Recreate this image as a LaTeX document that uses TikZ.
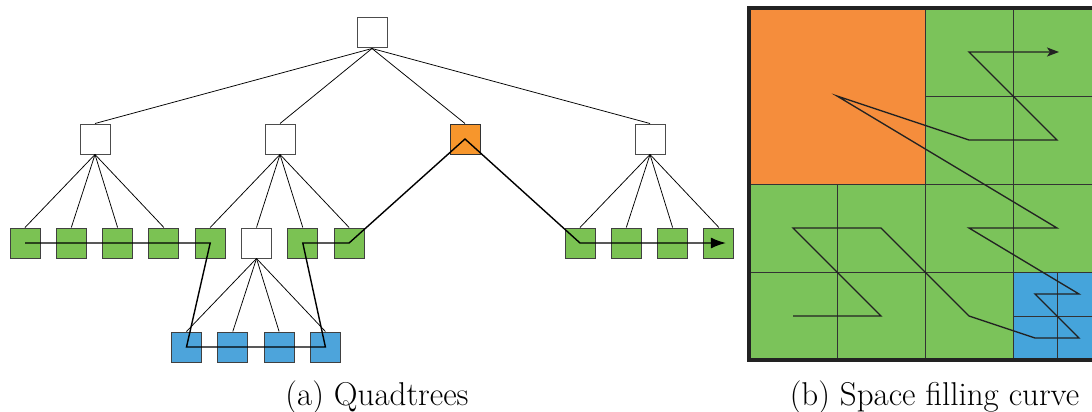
\documentclass[tikz,border=0pt]{standalone}
\usetikzlibrary{arrows.meta}
\definecolor{leafgreen}{HTML}{7BC253}
\definecolor{leaforange}{HTML}{F7962C}
\definecolor{leafblue}{HTML}{4DA4DB}
\definecolor{cellgreen}{HTML}{7BC35A}
\definecolor{cellorange}{HTML}{F58D3C}
\definecolor{cellblue}{HTML}{45A4DB}
\definecolor{framegray}{HTML}{222222}
\tikzset{
  qbox/.style={draw=black!70, line width=1pt, minimum size=30pt, inner sep=0pt, fill=white},
  greenbox/.style={qbox, fill=leafgreen, draw=black!75},
  bluebox/.style={qbox, fill=leafblue, draw=black!75},
  orangebox/.style={qbox, fill=leaforange, draw=black!80},
  treeedge/.style={line width=0.75pt, black},
  traverse/.style={line width=1.4pt, black, line join=miter},
  gridline/.style={line width=1pt, black!80},
  sfc/.style={line width=1.3pt, framegray},
  captext/.style={font=\fontsize{33}{38}\selectfont, anchor=base, inner sep=0pt}
}
\begin{document}
\begin{tikzpicture}[x=1pt,y=-1pt]
\useasboundingbox (0,0) rectangle (1092,412);
% ---------- quadtree ----------
\node[qbox] (root) at (372,33) {};
\node[qbox] (n1) at (95,139) {};
\node[qbox] (n2) at (280,139) {};
\node[orangebox] (n3) at (465,139) {};
\node[qbox] (n4) at (650,139) {};
\node[greenbox] (a1) at (25,243) {};
\node[greenbox] (a2) at (71.3,243) {};
\node[greenbox] (a3) at (117.6,243) {};
\node[greenbox] (a4) at (163.9,243) {};
\node[greenbox] (b1) at (210.2,243) {};
\node[qbox] (b2) at (256.5,243) {};
\node[greenbox] (b3) at (302.8,243) {};
\node[greenbox] (b4) at (349.1,243) {};
\node[greenbox] (c1) at (580,243) {};
\node[greenbox] (c2) at (626.3,243) {};
\node[greenbox] (c3) at (672.6,243) {};
\node[greenbox] (c4) at (718.9,243) {};
\node[bluebox] (d1) at (186.5,347) {};
\node[bluebox] (d2) at (232.8,347) {};
\node[bluebox] (d3) at (279.1,347) {};
\node[bluebox] (d4) at (325.4,347) {};
\foreach \c in {n1,n2,n3,n4} \draw[treeedge] (root.south) -- (\c.north);
\foreach \c in {a1,a2,a3,a4} \draw[treeedge] (n1.south) -- (\c.north);
\foreach \c in {b1,b2,b3,b4} \draw[treeedge] (n2.south) -- (\c.north);
\foreach \c in {c1,c2,c3,c4} \draw[treeedge] (n4.south) -- (\c.north);
\foreach \c in {d1,d2,d3,d4} \draw[treeedge] (b2.south) -- (\c.north);
\coordinate (endA) at ([xshift=7pt]c4.center);
\draw[traverse, -{Latex[length=15pt,width=11pt]}] (a1.center) -- (b1.center) -- (d1.center) -- (d4.center) -- (b3.center) -- (b4.center) -- (n3.center) -- (c1.center) -- (endA);
% ---------- space filling curve ----------
\begin{scope}
\clip (740,0) rectangle (1092,412);
\fill[cellgreen] (749,8) rectangle (1101,360);
\fill[cellorange] (749,8) rectangle (925,184);
\fill[cellblue] (1013,272) rectangle (1101,360);
\draw[gridline] (925,8) -- (925,360);
\draw[gridline] (749,184) -- (1101,184);
\draw[gridline] (1013,8) -- (1013,360);
\draw[gridline] (749,272) -- (1101,272);
\draw[gridline] (837,184) -- (837,360);
\draw[gridline] (925,96) -- (1101,96);
\draw[gridline] (1057,272) -- (1057,360);
\draw[gridline] (1013,316) -- (1101,316);
\draw[line width=3.2pt, framegray] (749,8) rectangle (1101,360);
\coordinate (p1) at (793,316);
\coordinate (p2) at (881,316);
\coordinate (p3) at (793,228);
\coordinate (p4) at (881,228);
\coordinate (p5) at (969,316);
\coordinate (p6) at (1035,338);
\coordinate (p7) at (1079,338);
\coordinate (p8) at (1035,294);
\coordinate (p9) at (1079,294);
\coordinate (p10) at (969,228);
\coordinate (p11) at (1057,228);
\coordinate (p12) at (837,96);
\coordinate (p13) at (969,140);
\coordinate (p14) at (1057,140);
\coordinate (p15) at (969,52);
\coordinate (p16) at (1059,52);
\draw[sfc, -{Stealth[length=12pt,width=9pt,inset=3pt]}] (p1) -- (p2) -- (p3) -- (p4) -- (p5) -- (p6) -- (p7) -- (p8) -- (p9) -- (p10) -- (p11) -- (p12) -- (p13) -- (p14) -- (p15) -- (p16);
\end{scope}
% ---------- captions ----------
\node[captext] (capa) at (377,405) {(a) Quadtrees};
\node[captext] (capb) at (934.5,405) {(b) Space filling curve};
\end{tikzpicture}
\end{document}
